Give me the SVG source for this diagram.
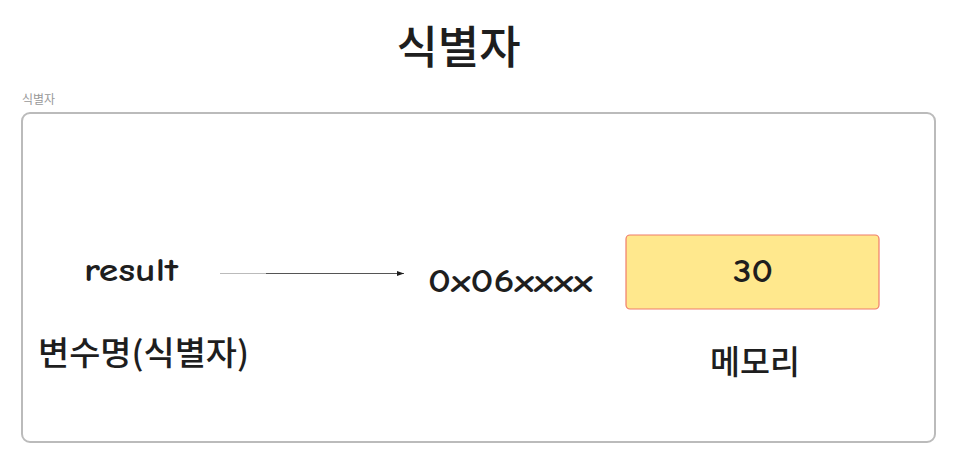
<svg xmlns="http://www.w3.org/2000/svg" width="961" height="475" viewBox="0 0 961 475">
<style>
.t{font-family:"Noto Sans CJK KR","Noto Sans",sans-serif;fill:#1e1e1e}
.h{font-family:"Comic Neue","Noto Sans","Liberation Sans",sans-serif;fill:#1e1e1e;font-weight:bold}
</style>
<defs>
<marker id="ah" markerWidth="8" markerHeight="8" refX="7" refY="4" orient="auto" markerUnits="userSpaceOnUse">
<path d="M0,1.5 L7,4 L0,6.5 Z" fill="#1e1e1e"/>
</marker>
</defs>
<rect width="961" height="475" fill="#fff"/>
<g id="title"><text class="t" x="458.5" y="64" font-size="45" font-weight="500" text-anchor="middle">식별자</text></g>
<g id="frame">
<text x="22" y="104" font-family="Noto Sans CJK KR, sans-serif" font-size="12" fill="#999">식별자</text>
<rect x="22" y="113" width="913" height="329" rx="8" fill="none" stroke="#bbb" stroke-width="2"/>
</g>
<g id="connectors">
<line x1="220" y1="273.5" x2="266" y2="273.5" stroke="#bbb" stroke-width="1"/>
<line x1="266" y1="273.5" x2="404" y2="273.5" stroke="#555" stroke-width="1" marker-end="url(#ah)"/>
</g>
<g id="result"><text class="h" x="84" y="281" font-size="32" textLength="94" lengthAdjust="spacingAndGlyphs">result</text></g>
<g id="address"><text class="h" x="428" y="292" font-size="32" textLength="165" lengthAdjust="spacingAndGlyphs">0x06xxxx</text></g>
<g id="memory">
<rect x="626" y="235" width="253" height="74" rx="4" fill="#ffe88d" stroke="#f07c6a" stroke-width="1.2"/>
<text class="h" x="733" y="282" font-size="32" textLength="40" lengthAdjust="spacingAndGlyphs">30</text>
</g>
<g id="label-var"><text class="t" x="38" y="365" font-size="33" font-weight="500" textLength="211" lengthAdjust="spacingAndGlyphs">변수명(식별자)</text></g>
<g id="label-mem"><text class="t" x="710" y="374" font-size="33" font-weight="500" textLength="90" lengthAdjust="spacingAndGlyphs">메모리</text></g>
</svg>
